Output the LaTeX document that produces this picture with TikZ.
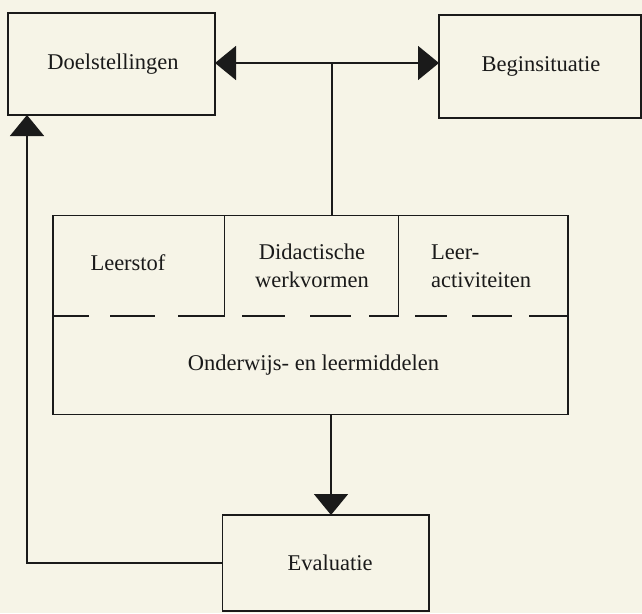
\documentclass[tikz,border=0pt]{standalone}
\usepackage{fontspec}
\setmainfont{Liberation Serif}
\usetikzlibrary{arrows.meta,calc}
\definecolor{paper}{HTML}{F6F4E7}
\definecolor{ink}{HTML}{1A1A1A}
\tikzset{
  box/.style={draw=ink, line width=1.6pt, rectangle, inner sep=0pt, outer sep=0pt},
  lbl/.style={inner sep=0pt, text=ink, font=\fontsize{22.5}{28}\selectfont},
  conn/.style={draw=ink, line width=1.6pt},
  tip/.style={-{Triangle[length=21pt,width=34pt]}},
}
\begin{document}
\begin{tikzpicture}[x=1pt,y=-1pt]
\fill[paper] (0,0) rectangle (642,613);
\clip (0,0) rectangle (642,613);
% boxes
\node[box, minimum width=207pt, minimum height=102pt] (doel) at (111.5,64) {};
\node[lbl] at (113,64) {Doelstellingen};
\node[box, minimum width=202pt, minimum height=103pt] (begin) at (540,66.5) {};
\node[lbl] at (541,66.5) {Beginsituatie};
\node[box, minimum width=515pt, minimum height=199pt] (main) at (310.5,315) {};
\node[box, minimum width=206.5pt, minimum height=96pt] (eval) at (325.75,563) {};
\node[lbl] at (330,563) {Evaluatie};
% inner structure of main box
\coordinate (d1) at (224.6,316);
\coordinate (d2) at (398.5,316);
\draw[conn] (d1 |- main.north) -- (d1);
\draw[conn] (d2 |- main.north) -- (d2);
\foreach \a/\b in {53/88.7,110/154.7,178/224.6,242/285,310/351,369/398.5,415/447.4,472/512,529/568}
  \draw[conn] (\a,316) -- (\b,316);
\node[lbl] (leerstof) at (128,263) {Leerstof};
\node[lbl, align=center] (didac) at (312,266) {Didactische\\werkvormen};
\node[lbl, align=left, anchor=west] (leer) at (431,266) {Leer-\\activiteiten};
\node[lbl] (onder) at (313.5,365) {Onderwijs- en leermiddelen};
% connectors
\coordinate (J) at (332,63);
\draw[conn, tip] (J) -- (J -| doel.east);
\draw[conn, tip] (J) -- (J -| begin.west);
\draw[conn] (J) -- (J |- main.north);
\draw[conn, tip] (main.south -| 331,0) -- (eval.north -| 331,0);
\coordinate (C) at (27,563);
\draw[conn, tip] (eval.west) -- (C) -- (C |- doel.south);
\end{tikzpicture}
\end{document}
